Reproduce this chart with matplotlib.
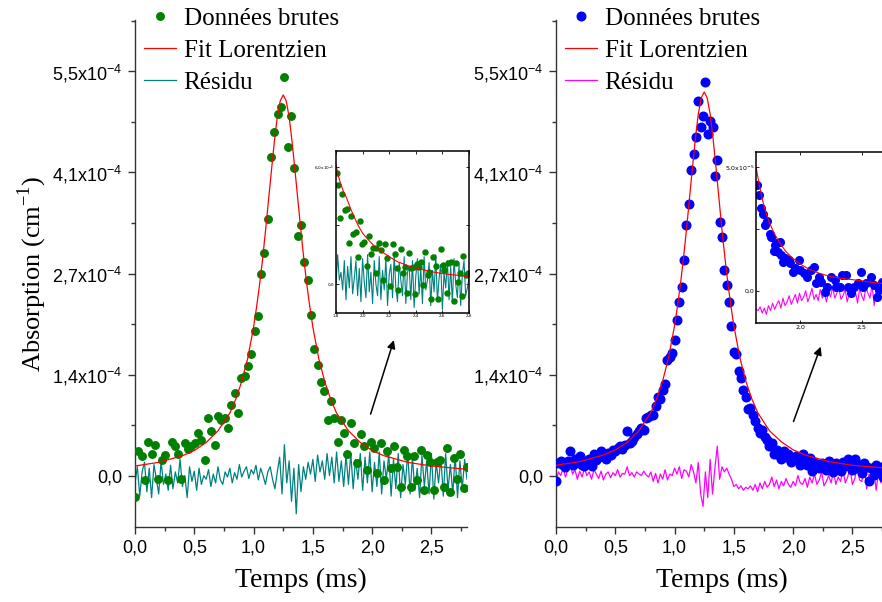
import numpy as np
import matplotlib
matplotlib.use("Agg")
import matplotlib.pyplot as plt

SERIF = "Liberation Serif"
SANS = "Liberation Sans"

# ---- main panels, absorption in units of 1e-4 cm-1 ----
t_left = np.linspace(0, 2.8, 101)
abs_left = [-0.29, 0.33, 0.26, -0.06, 0.46, 0.30, 0.42, -0.04, 0.21, 0.28,
            -0.06, 0.46, 0.40, 0.30, -0.04, 0.44, 0.36, 0.40, 0.44, 0.58,
            0.49, 0.21, 0.78, 0.60, 0.42, 0.81, 0.76, 0.78, 0.65, 0.96,
            1.12, 0.85, 1.33, 1.35, 1.49, 1.65, 1.97, 2.17, 2.74, 3.03,
            3.49, 4.33, 4.67, 4.92, 5.01, 5.42, 4.47, 4.90, 4.19, 3.26,
            3.41, 2.91, 2.66, 2.19, 1.72, 1.51, 1.28, 1.15, 0.76, 1.01,
            0.78, 0.46, 0.76, 0.58, 0.29, 0.71, 0.44, 0.17, 0.56, 0.40,
            0.08, 0.46, 0.37, 0.03, 0.44, -0.06, 0.33, 0.10, 0.40, 0.12,
            -0.15, 0.35, 0.26, -0.15, 0.26, -0.06, 0.35, -0.20, 0.28, 0.19,
            -0.20, 0.19, 0.21, -0.15, 0.37, -0.22, 0.24, -0.04, 0.30, -0.17,
            0.12]

t_res = np.linspace(0, 2.8, 141)
res_left = [-0.10, 0.12, -0.28, 0.05, 0.18, -0.22, 0.10, -0.30, 0.15, -0.05,
            -0.25, 0.20, -0.12, 0.02, -0.20, 0.14, -0.18, 0.05, -0.10, 0.22,
            -0.15, 0.00, -0.30, 0.12, -0.08, 0.06, -0.20, 0.10, -0.12, 0.00,
            -0.05, 0.08, -0.15, 0.02, -0.10, 0.12, -0.06, -0.12, 0.05, -0.02,
            0.10, -0.10, 0.04, -0.05, 0.15, -0.02, 0.06, 0.12, -0.04, 0.08,
            0.02, 0.14, -0.06, 0.10, 0.00, -0.12, 0.05, 0.12, -0.05, -0.18,
            0.05, 0.25, -0.25, 0.42, -0.10, 0.20, -0.35, 0.10, -0.52, 0.15,
            -0.22, 0.12, -0.05, 0.18, 0.02, 0.22, -0.08, 0.28, 0.05, 0.20,
            -0.05, 0.30, 0.00, 0.25, -0.10, 0.32, -0.08, 0.20, -0.15, 0.28,
            -0.12, 0.30, -0.18, 0.22, -0.05, 0.30, -0.20, 0.25, -0.10, 0.32,
            -0.22, 0.18, -0.15, 0.32, -0.25, 0.20, -0.05, 0.30, -0.28, 0.22,
            -0.18, 0.30, -0.30, 0.15, -0.12, 0.32, -0.25, 0.25, -0.20, 0.10,
            -0.30, 0.28, -0.15, 0.20, -0.25, 0.30, -0.32, 0.18, -0.10, 0.25,
            -0.28, 0.30, -0.20, 0.15, -0.25, 0.28, -0.30, 0.20, -0.18, 0.22,
            -0.05]

fit_t = [0, 0.2, 0.4, 0.5, 0.6, 0.7, 0.8, 0.85, 0.9, 0.95,
         1.0, 1.025, 1.05, 1.075, 1.1, 1.125, 1.15, 1.175, 1.2, 1.225,
         1.25, 1.275, 1.3, 1.325, 1.35, 1.375, 1.4, 1.425, 1.45, 1.475,
         1.5, 1.55, 1.6, 1.65, 1.7, 1.8, 1.9, 2.0, 2.1, 2.3, 2.5, 2.8]
fit_left = [0.13, 0.18, 0.27, 0.34, 0.45, 0.61, 0.85, 1.04, 1.28, 1.59,
            2.02, 2.29, 2.59, 2.93, 3.32, 3.73, 4.14, 4.54, 4.88, 5.10,
            5.18, 5.10, 4.88, 4.54, 4.14, 3.73, 3.32, 2.93, 2.59, 2.29,
            2.02, 1.59, 1.28, 1.04, 0.85, 0.61, 0.45, 0.34, 0.27, 0.18, 0.13, 0.085]
fit_right = [0.14, 0.19, 0.28, 0.35, 0.45, 0.61, 0.86, 1.05, 1.29, 1.61,
             2.04, 2.31, 2.61, 2.96, 3.34, 3.76, 4.18, 4.58, 4.92, 5.14,
             5.22, 5.14, 4.92, 4.58, 4.18, 3.76, 3.34, 2.96, 2.61, 2.31,
             2.04, 1.61, 1.29, 1.05, 0.86, 0.61, 0.46, 0.35, 0.28, 0.19, 0.14, 0.10]

t_right = np.linspace(0, 2.8, 141)
abs_right = [-0.08, 0.17, 0.20, 0.14, 0.12, 0.20, 0.33, 0.15, 0.22, 0.18,
             0.26, 0.14, 0.13, 0.20, 0.23, 0.13, 0.29, 0.21, 0.25, 0.33,
             0.26, 0.22, 0.31, 0.28, 0.35, 0.33, 0.38, 0.40, 0.36, 0.42,
             0.60, 0.45, 0.47, 0.52, 0.56, 0.60, 0.65, 0.62, 0.79, 0.80,
             0.83, 0.82, 0.95, 1.07, 1.04, 1.16, 1.24, 1.57, 1.62, 1.67,
             1.85, 2.12, 2.36, 2.56, 2.94, 3.41, 3.69, 4.16, 4.38, 4.61,
             5.10, 4.74, 4.90, 5.36, 4.65, 4.82, 4.74, 4.08, 4.30, 3.45,
             3.25, 2.80, 2.60, 2.36, 2.04, 1.68, 1.65, 1.42, 1.33, 1.17,
             1.07, 0.90, 0.92, 0.83, 0.74, 0.65, 0.58, 0.62, 0.52, 0.48,
             0.40, 0.45, 0.30, 0.35, 0.28, 0.22, 0.33, 0.25, 0.29, 0.18,
             0.22, 0.26, 0.22, 0.14, 0.29, 0.20, 0.15, 0.24, 0.06, 0.18,
             0.15, 0.10, 0.17, 0.12, 0.08, 0.20, 0.15, 0.05, 0.17, 0.10,
             0.06, 0.18, 0.13, 0.22, 0.15, 0.08, 0.22, 0.10, 0.15, 0.04,
             0.17, 0.12, -0.08, 0.10, 0.01, 0.14, 0.06, 0.12, -0.02, 0.10,
             0.08]
res_right = [-0.12, 0.05, 0.00, 0.10, -0.02, 0.08, 0.15, 0.02, 0.08, -0.05,
             0.06, -0.02, 0.10, 0.00, 0.05, -0.05, 0.08, 0.02, -0.04, 0.06,
             -0.06, 0.02, 0.05, -0.03, 0.04, 0.00, 0.08, -0.02, 0.03, 0.02,
             0.12, 0.00, 0.04, -0.02, 0.05, 0.02, 0.00, 0.06, 0.01, -0.02,
             0.05, -0.08, 0.03, -0.10, 0.02, -0.05, 0.08, -0.06, 0.02, 0.00,
             0.10, 0.02, 0.12, -0.04, 0.08, 0.06, -0.02, 0.15, 0.05, -0.10,
             0.18, -0.25, -0.42, 0.05, -0.30, 0.22, -0.25, 0.10, 0.40, -0.05,
             0.12, 0.05, 0.10, 0.02, -0.05, -0.15, -0.12, -0.18, -0.14, -0.20,
             -0.16, -0.18, -0.14, -0.20, -0.12, -0.22, -0.10, -0.18, -0.08, -0.16,
             -0.12, -0.02, -0.15, -0.06, -0.18, -0.08, -0.14, -0.04, -0.12, -0.16,
             -0.08, -0.14, 0.00, -0.10, -0.12, -0.04, -0.16, -0.02, -0.10, 0.02,
             -0.12, -0.06, 0.05, -0.14, -0.08, 0.00, -0.10, 0.06, -0.12, -0.02,
             -0.08, 0.08, -0.10, -0.02, 0.10, -0.12, -0.04, 0.12, -0.06, -0.08,
             0.14, -0.18, 0.02, -0.12, 0.08, -0.20, 0.05, -0.10, 0.00, -0.14,
             -0.05]

# ---- insets, units of 1e-5 cm-1 ----
tin_left = [1.805, 1.817, 1.83, 1.847, 1.868, 1.88, 1.898, 1.913, 1.93, 1.948,
            1.963, 1.98, 1.998, 2.013, 2.033, 2.048, 2.063, 2.08, 2.098, 2.104,
            2.126, 2.136, 2.153, 2.166, 2.184, 2.206, 2.226, 2.244, 2.256, 2.268,
            2.286, 2.301, 2.319, 2.332, 2.35, 2.364, 2.383, 2.395, 2.407, 2.427,
            2.44, 2.457, 2.47, 2.488, 2.50, 2.514, 2.532, 2.55, 2.57, 2.587,
            2.602, 2.614, 2.632, 2.644, 2.662, 2.687, 2.702, 2.72, 2.732, 2.745,
            2.757, 2.777, 2.795]
vin_left = [5.66, 5.07, 3.40, 4.59, 3.79, 3.84, 2.12, 3.50, 2.55, 2.65,
            1.38, 3.23, 2.04, 2.17, 0.90, 2.48, 1.53, 1.84, 0.56, 1.84,
            2.12, 1.75, 0.22, 2.06, 1.33, -0.12, 2.04, 1.53, 0.82, -0.29,
            1.80, 0.56, 0.85, -0.46, 1.60, 0.82, 0.85, -0.51, 1.02, 0.85,
            1.12, -0.04, 1.63, 0.47, 0.64, -0.75, 1.36, 0.90, -0.75, 1.80,
            0.98, 0.73, -0.46, 1.07, 1.12, -0.89, 1.07, 0.13, 0.56, -0.63,
            1.41, 0.47, 0.56]
fitin_t_left = [1.80, 1.815, 1.83, 1.855, 1.88, 1.91, 1.94, 1.97, 2.00, 2.04, 2.08, 2.12,
                2.16, 2.21, 2.26, 2.32, 2.38, 2.45, 2.51, 2.57, 2.63, 2.71, 2.79, 2.80]
fitin_left = [6.09, 5.60, 5.23, 4.75, 4.39, 3.85, 3.37, 2.95, 2.60, 2.28, 2.00, 1.78,
              1.58, 1.36, 1.15, 0.99, 0.85, 0.74, 0.64, 0.57, 0.51, 0.45, 0.39, 0.38]
resin_left = [0.0, 1.5, 0.2, 0.6, -0.3, 1.2, -0.8, 0.9, -0.2, 1.4, -0.5, 0.3, 1.2, -0.6,
              0.8, -0.9, 1.3, 0.1, -0.7, 1.5, -0.4, 0.6, -1.0, 1.2, 0.0, -0.6, 1.4, -0.8,
              0.7, -0.3, 1.3, -1.1, 0.5, 1.0, -0.7, 1.5, -0.2, -0.9, 1.1, 0.2, -0.6, 1.4,
              -1.0, 0.6, 0.9, -0.8, 1.2, -1.2, 0.4, 1.3, -0.5, 0.8, -1.0, 1.4, -0.3, 0.2,
              1.1, -1.1, 0.7, -0.4, 1.5, -0.9, 0.3, 1.0, -1.3, 0.6, -0.2, 1.2, -0.8, 0.9,
              -1.0, 1.3, 0.0, -0.7, 1.0, -1.1, 0.5, 1.2, -0.6, -0.2, 0.3]

tin_right = [1.650, 1.67, 1.683, 1.70, 1.715, 1.733, 1.755, 1.768, 1.79, 1.795,
             1.81, 1.82, 1.837, 1.847, 1.86, 1.88, 1.91, 1.92, 1.94, 1.96,
             1.99, 2.00, 2.03, 2.06, 2.09, 2.11, 2.13, 2.15, 2.17, 2.20,
             2.22, 2.25, 2.28, 2.29, 2.32, 2.34, 2.37, 2.39, 2.41, 2.44,
             2.47, 2.49, 2.51, 2.53, 2.57, 2.60, 2.62, 2.64, 2.66, 2.69,
             2.72, 2.75, 2.78]
vin_right = [4.26, 3.86, 3.35, 3.10, 2.65, 2.81, 2.27, 2.18, 1.60, 1.84,
             1.91, 1.55, 1.95, 1.44, 1.17, 1.31, 1.24, 1.11, 0.77, 0.90,
             1.24, 0.83, 0.70, 0.56, 0.83, 0.97, 0.30, 0.56, 0.36, -0.04,
             0.16, 0.56, 0.43, 0.16, 0.16, 0.63, 0.63, 0.16, -0.10, 0.16,
             0.30, 0.77, 0.16, 0.30, 0.56, 0.23, -0.24, 0.03, 0.36, 0.20,
             0.45, 0.10, 0.30]
fitin_t_right = [1.645, 1.67, 1.70, 1.725, 1.75, 1.79, 1.83, 1.88, 1.94, 2.00, 2.08,
                 2.17, 2.26, 2.35, 2.45, 2.55, 2.65, 2.80]
fitin_right = [5.0, 4.3, 3.6, 3.15, 2.78, 2.33, 1.98, 1.62, 1.31, 1.08, 0.85,
               0.68, 0.56, 0.49, 0.43, 0.36, 0.30, 0.25]
resin_right = [-0.75, -0.8, -0.65, -0.9, -0.7, -0.95, -0.6, -0.8, -0.5, -0.75, -0.55, -0.4,
               -0.7, -0.3, -0.6, -0.45, -0.2, -0.55, -0.35, -0.15, -0.5, -0.1, -0.4, -0.25,
               0.0, -0.45, -0.2, 0.1, -0.35, -0.15, -0.4, 0.05, -0.3, -0.1, -0.45, -0.05,
               -0.25, 0.15, -0.3, -0.1, 0.1, -0.35, -0.2, 0.05, -0.45, -0.1, 0.2, -0.25,
               -0.05, -0.5, 0.1, -0.2, -0.4, 0.15, -0.1, -0.3, 0.25, -0.6, -0.05, 0.1,
               -0.35, -0.2, 0.2, -0.45, -0.1, 0.05, -0.3, 0.15, -0.4, -0.1]

# ticks
xticks = [0, 0.5, 1.0, 1.5, 2.0, 2.5]
xtick_labels = ["0,0", "0,5", "1,0", "1,5", "2,0", "2,5"]
yticks = [0, 1.375, 2.75, 4.125, 5.5]
ytick_labels = ["0,0", "1,4x10$^{\\mathregular{-4}}$", "2,7x10$^{\\mathregular{-4}}$",
                "4,1x10$^{\\mathregular{-4}}$", "5,5x10$^{\\mathregular{-4}}$"]

fig = plt.figure(figsize=(8.82, 6.02), dpi=100)
W, H = 882.0, 602.0


def main_axes(x0):
    ax = fig.add_axes([x0 / W, 75 / H, 332 / W, 507 / H])
    for s in ["top", "right"]:
        ax.spines[s].set_visible(False)
    for s in ["left", "bottom"]:
        ax.spines[s].set_color("#333333")
        ax.spines[s].set_linewidth(1.0)
    ax.set_xlim(0, 2.8)
    ax.set_ylim(-0.70, 6.2)
    ax.set_xticks(xticks)
    ax.set_xticklabels(xtick_labels, family=SANS, fontsize=13)
    ax.set_xticks(np.arange(0.25, 2.8, 0.5), minor=True)
    ax.set_yticks(yticks)
    ax.set_yticklabels(ytick_labels, family=SANS, fontsize=13)
    ax.set_yticks([0.6875, 2.0625, 3.4375, 4.8125, 6.1875], minor=True)
    ax.tick_params(which="major", direction="out", length=5, width=1, color="#333333", pad=4)
    ax.tick_params(which="minor", direction="out", length=3, width=1, color="#333333")
    ax.set_xlabel("Temps (ms)", family=SERIF, fontsize=20)
    ax.xaxis.set_label_coords(0.5, -0.08)
    return ax


def inset_axes(x0, y_top, w, h, xlim, ylim):
    ax = fig.add_axes([x0 / W, (H - y_top - h) / H, w / W, h / H])
    for s in ax.spines.values():
        s.set_linewidth(1.1)
        s.set_color("black")
    ax.set_xlim(*xlim)
    ax.set_ylim(*ylim)
    ax.tick_params(which="both", direction="in", length=2, width=0.6, labelsize=3,
                   top=True, right=True, pad=1)
    return ax


def add_legend(ax):
    ax.legend(loc="upper left", bbox_to_anchor=(-0.012, 1.05), frameon=False,
              prop={"family": SERIF, "size": 18}, handlelength=1.3, handletextpad=0.3,
              labelspacing=0.38, borderpad=0, numpoints=1)


# left panel
axL = main_axes(135)
axL.plot(t_res, res_left, color="#008080", lw=0.9, zorder=2)
axL.plot(t_left, abs_left, "o", color="#008000", ms=5.4, mec="#008000", zorder=3,
         label="Données brutes")
axL.plot(fit_t, fit_left, color="red", lw=0.9, zorder=4, label="Fit Lorentzien")
axL.plot([], [], color="#008080", lw=0.9, label="Résidu")
axL.set_ylabel("Absorption (cm$^{\\mathregular{-1}}$)", family=SERIF, fontsize=19)
axL.yaxis.set_label_coords(-0.26, 0.5)
axL.annotate("", xy=(2.19, 1.88), xytext=(1.98, 0.80),
             arrowprops=dict(arrowstyle="-|>", color="black", lw=1.1, mutation_scale=12))
add_legend(axL)

# right panel
axR = main_axes(556)
axR.plot(t_res, res_right, color="#ff00ff", lw=0.9, zorder=2)
axR.plot(t_right, abs_right, "o", color="#0000ff", ms=6.2, mec="#0000ff", zorder=3,
         label="Données brutes")
axR.plot(fit_t, fit_right, color="red", lw=0.9, zorder=4, label="Fit Lorentzien")
axR.plot([], [], color="#ff00ff", lw=0.9, label="Résidu")
axR.annotate("", xy=(2.24, 1.79), xytext=(1.995, 0.70),
             arrowprops=dict(arrowstyle="-|>", color="black", lw=1.1, mutation_scale=12))
add_legend(axR)

# left inset
inL = inset_axes(336, 151, 133, 162, (1.8, 2.8), (-1.48, 6.8))
inL.plot(np.linspace(1.8, 2.8, len(resin_left)), resin_left, color="#008080", lw=0.8)
inL.plot(tin_left, vin_left, "o", color="#008000", ms=3.6, mec="#008000")
inL.plot(fitin_t_left, fitin_left, color="red", lw=0.8)
inL.set_xticks([1.8, 2.0, 2.2, 2.4, 2.6, 2.8])
inL.set_xticklabels(["1,8", "2,0", "2,2", "2,4", "2,6", "2,8"])
inL.set_yticks([0, 3, 6])
inL.set_yticklabels(["0,0", "", "6,0x10$^{\\mathregular{-5}}$"])

# right inset
inR = inset_axes(756, 151.7, 143, 171.3, (1.645, 2.8), (-1.30, 5.6))
inR.plot(np.linspace(1.645, 2.8, len(resin_right)), resin_right, color="#ff00ff", lw=0.8)
inR.plot(tin_right, vin_right, "o", color="#0000ff", ms=5.5, mec="#0000ff")
inR.plot(fitin_t_right, fitin_right, color="red", lw=0.8)
inR.set_xticks([2.0, 2.5])
inR.set_xticklabels(["2,0", "2,5"])
inR.tick_params(labelsize=4.5)
inR.set_yticks([0, 2.5, 5])
inR.set_yticklabels(["0,0", "", "5,0x10$^{\\mathregular{-5}}$"])

fig.savefig("out.png", dpi=100)
